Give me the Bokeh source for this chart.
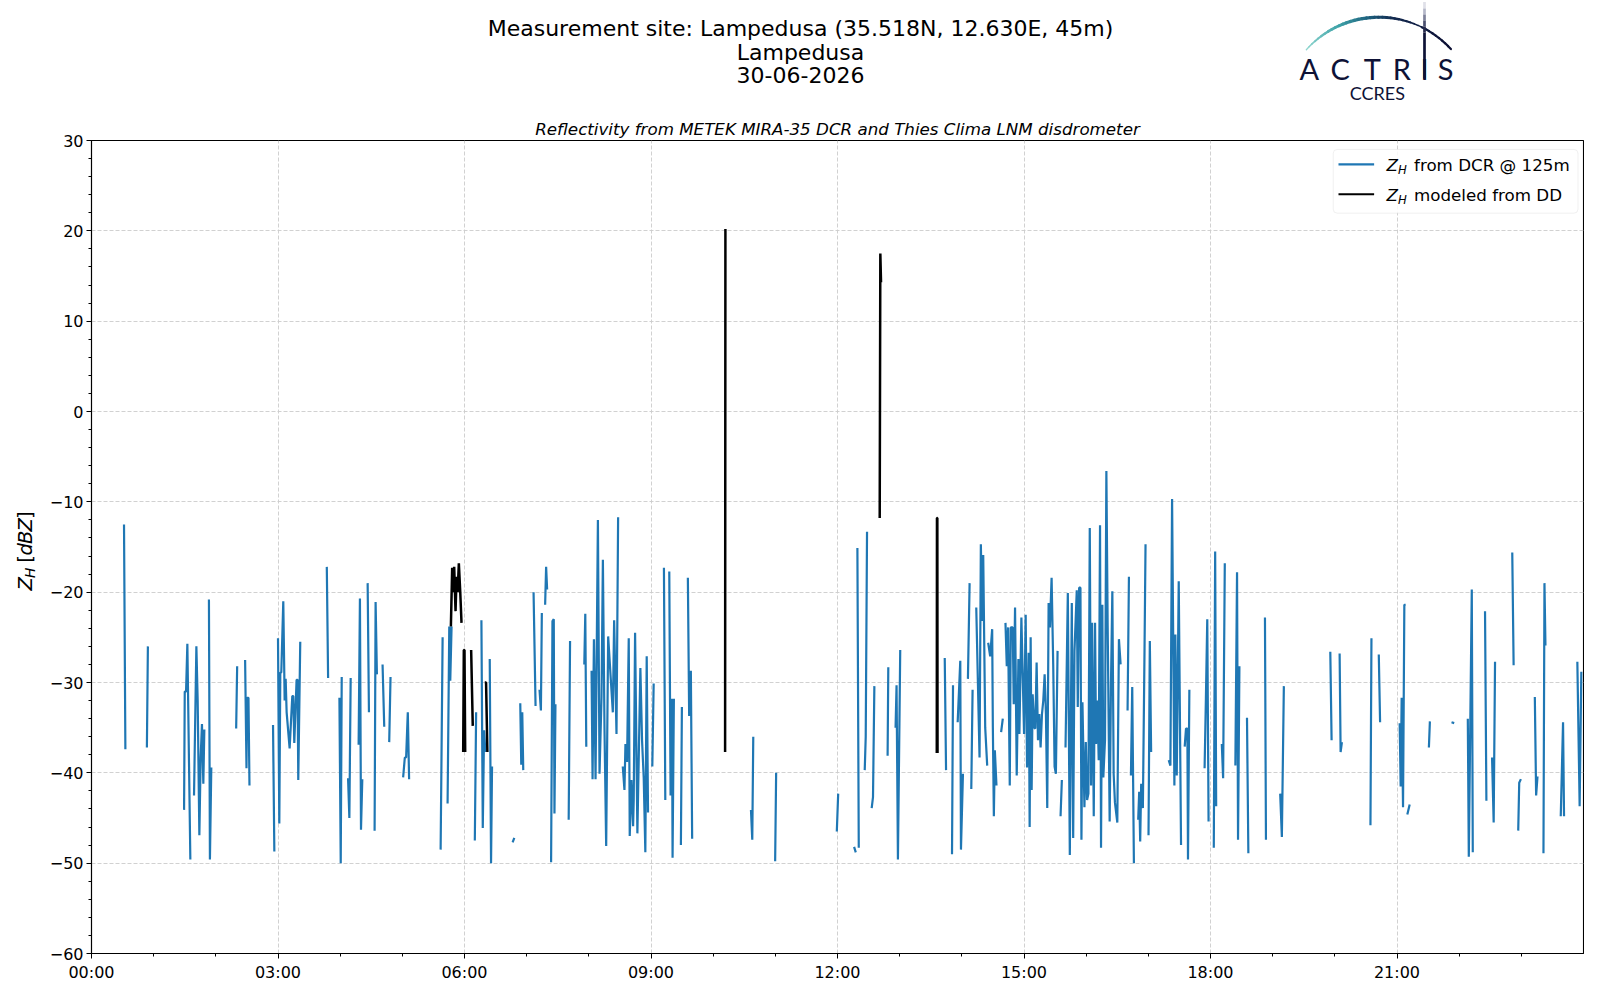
import math
from bokeh.plotting import figure
from bokeh.layouts import column, row
from bokeh.models import Range1d, FixedTicker, Label, BoxAnnotation
from bokeh.embed import file_html
from bokeh.resources import INLINE
from bokeh.core.properties import value

nan = float("nan")

# ---------------- texts ----------------
title_lines = ["Measurement site: Lampedusa (35.518N, 12.630E, 45m)", "Lampedusa", "30-06-2026"]
subtitle = "Reflectivity from METEK MIRA-35 DCR and Thies Clima LNM disdrometer"
legend_dcr_text = "from DCR @ 125m"
legend_dd_text = "modeled from DD"
logo_letters = ["A", "C", "T", "R", "I", "S"]
logo_sub = "CCRES"

# ---------------- axis ticks ----------------
x_tick_hours = [0, 3, 6, 9, 12, 15, 18, 21]
x_tick_labels = ["00:00", "03:00", "06:00", "09:00", "12:00", "15:00", "18:00", "21:00"]
y_tick_values = [-60, -50, -40, -30, -20, -10, 0, 10, 20, 30]
y_tick_labels = ["\u221260", "\u221250", "\u221240", "\u221230", "\u221220", "\u221210", "0", "10", "20", "30"]

# ---------------- data: Z_H from DCR @ 125 m (hours UTC, dBZ), nan = gap ----------------
dcr_time_h = [
    0.523, 0.545, nan,
    0.891, 0.907, nan,
    1.489, 1.500, 1.521, 1.542, 1.590, nan,
    1.649, 1.687, 1.708, 1.735, 1.756, 1.777, 1.799, 1.815, nan,
    1.889, 1.905, 1.927, nan,
    2.327, 2.343, nan,
    2.471, 2.493, 2.503, 2.525, 2.541, nan,
    2.920, 2.941, nan,
    3.000, 3.021, 3.037, 3.053, 3.085, 3.107, 3.123, 3.139, 3.187, 3.230, 3.246, 3.262, 3.299, 3.315, 3.326, 3.358, nan,
    3.785, 3.806, nan,
    3.988, 4.009, 4.025, nan,
    4.127, 4.148, 4.169, nan,
    4.297, 4.318, 4.335, 4.356, nan,
    4.442, 4.463, nan,
    4.554, 4.570, 4.591, nan,
    4.682, 4.709, nan,
    4.789, 4.810, nan,
    5.013, 5.040, 5.061, 5.088, 5.109, nan,
    5.616, 5.648, nan,
    5.728, 5.755, 5.771, 5.792, nan,
    6.166, 6.187, nan,
    6.272, 6.294, 6.315, 6.336, nan,
    6.406, 6.427, 6.443, nan,
    6.774, 6.801, nan,
    6.897, 6.913, 6.929, 6.945, nan,
    7.111, 7.143, nan,
    7.207, 7.229, 7.244, nan,
    7.297, 7.313, 7.329, nan,
    7.393, 7.415, 7.436, 7.447, 7.463, nan,
    7.676, 7.698, nan,
    7.927, 7.943, 7.959, nan,
    8.044, 8.060, 8.082, 8.108, 8.146, 8.172, 8.204, 8.226, 8.252, 8.279, 8.311, 8.386, 8.407, 8.445, 8.471, nan,
    8.546, 8.573, 8.589, 8.615, 8.642, 8.658, 8.685, 8.712, 8.722, 8.744, 8.781, 8.829, 8.856, 8.883, 8.909, 8.931, 8.952, nan,
    9.021, 9.043, nan,
    9.208, 9.230, nan,
    9.294, 9.315, 9.337, 9.347, 9.368, nan,
    9.481, 9.497, nan,
    9.593, 9.614, 9.641, 9.662, nan,
    10.608, 10.629, 10.645, nan,
    10.997, 11.013, nan,
    11.989, 12.011, nan,
    12.267, 12.294, nan,
    12.320, 12.342, nan,
    12.438, 12.454, 12.475, nan,
    12.550, 12.571, 12.593, nan,
    12.806, 12.817, nan,
    12.934, 12.950, 12.972, 13.009, nan,
    13.725, 13.746, nan,
    13.842, 13.858, nan,
    13.933, 13.975, 13.986, 14.018, nan,
    14.098, 14.125, nan,
    14.152, 14.173, nan,
    14.232, 14.285, 14.306, 14.328, 14.344, 14.376, 14.408, nan,
    14.424, 14.456, 14.488, 14.499, 14.515, 14.531, 14.557, nan,
    14.632, 14.659, nan,
    14.702, 14.723, 14.744, 14.771, 14.787, 14.819, 14.835, 14.856, 14.883, 14.910, 14.926, 14.958, 14.979,
    15.001, 15.027, 15.049, 15.075, 15.091, 15.107, 15.123, 15.139, 15.166, 15.182, 15.203, 15.225, 15.246,
    15.267, 15.289, 15.310, 15.332, 15.353, 15.374, 15.396, 15.417, 15.444, 15.470, 15.492, 15.513, 15.540, nan,
    15.588, 15.609, nan,
    15.668, 15.705, 15.737, 15.769, 15.791, 15.812, 15.849, 15.865, 15.887, 15.908, 15.924, 15.940, 15.972,
    15.994, 16.015, 16.036, 16.058, 16.079, 16.095, 16.122, 16.143, 16.159, 16.180, 16.202, 16.223, 16.239,
    16.260, 16.276, 16.303, 16.325, 16.346, 16.378, 16.399, 16.421, 16.442, 16.463, 16.501, 16.527, 16.554, nan,
    16.666, 16.688, nan,
    16.720, 16.741, 16.768, nan,
    16.837, 16.853, 16.869, 16.885, 16.912, 16.939, 16.955, nan,
    17.003, 17.024, 17.045, nan,
    17.328, 17.355, 17.382, 17.419, 17.435, 17.457, 17.489, 17.526, nan,
    17.585, 17.606, 17.628, 17.638, 17.660, nan,
    17.905, 17.926, 17.948, 17.969, nan,
    18.053, 18.075, 18.091, nan,
    18.182, 18.203, 18.230, nan,
    18.400, 18.427, 18.443, 18.465, nan,
    18.587, 18.609, nan,
    18.876, 18.892, nan,
    19.121, 19.148, 19.180, nan,
    19.927, 19.948, nan,
    20.077, 20.093, 20.114, nan,
    20.573, 20.589, nan,
    20.707, 20.728, nan,
    21.043, 21.059, 21.075, 21.097, 21.118, 21.139, nan,
    21.166, 21.204, nan,
    21.513, 21.529, nan,
    21.877, 21.920, nan,
    22.139, 22.155, 22.203, 22.219, nan,
    22.416, 22.438, nan,
    22.529, 22.555, 22.577, nan,
    22.854, 22.876, nan,
    22.950, 22.966, 22.993, nan,
    23.217, 23.238, 23.260, nan,
    23.356, 23.372, 23.388, nan,
    23.634, 23.671, 23.687, nan,
    23.901, 23.938, 23.965,
]
dcr_zh = [
    -12.5, -37.4, nan,
    -37.2, -26.0, nan,
    -44.1, -31.0, -31.0, -25.7, -49.6, nan,
    -42.5, -26.0, -32.0, -46.9, -38.3, -34.6, -41.2, -35.2, nan,
    -20.8, -49.6, -39.4, nan,
    -35.1, -28.2, nan,
    -27.5, -39.5, -31.7, -31.7, -41.4, nan,
    -34.7, -48.7, nan,
    -25.1, -45.6, -28.9, -28.9, -21.0, -32.0, -29.6, -33.3, -37.3, -31.5, -31.5, -36.7, -29.7, -29.7, -40.8, -25.5, nan,
    -17.2, -29.5, nan,
    -31.7, -50.0, -29.4, nan,
    -40.6, -45.0, -29.5, nan,
    -36.9, -20.7, -46.3, -40.7, nan,
    -19.0, -33.3, nan,
    -46.4, -21.1, -29.1, nan,
    -28.0, -34.9, nan,
    -36.6, -29.4, nan,
    -40.5, -38.3, -38.3, -33.3, -40.7, nan,
    -48.5, -25.0, nan,
    -43.4, -23.8, -29.8, -23.8, nan,
    -47.5, -33.3, nan,
    -23.1, -46.1, -35.3, -37.7, nan,
    -27.4, -50.0, -39.3, nan,
    -47.7, -47.2, nan,
    -32.3, -39.1, -33.3, -39.7, nan,
    -20.0, -32.6, nan,
    -30.8, -33.1, -22.3, nan,
    -21.4, -17.2, -19.7, nan,
    -49.9, -23.2, -23.0, -44.5, -32.4, nan,
    -45.2, -25.4, nan,
    -28.0, -22.4, -37.1, nan,
    -28.7, -40.7, -25.2, -40.7, -12.0, -40.1, -31.6, -16.4, -35.2, -48.1, -24.9, -33.3, -23.1, -35.7, -11.7, nan,
    -39.3, -41.9, -36.8, -38.8, -25.1, -47.0, -40.8, -45.9, -43.0, -24.5, -46.7, -28.4, -36.4, -40.6, -48.8, -27.1, -44.4, nan,
    -39.3, -30.1, nan,
    -17.3, -43.0, nan,
    -17.7, -42.5, -31.8, -49.4, -31.8, nan,
    -48.0, -32.7, nan,
    -18.4, -33.7, -28.7, -47.3, nan,
    -44.1, -47.4, -36.0, nan,
    -49.8, -40.0, nan,
    -46.5, -42.3, nan,
    -48.2, -48.8, nan,
    -15.1, -48.3, nan,
    -39.7, -36.0, -13.3, nan,
    -43.9, -42.7, -30.4, nan,
    -38.1, -28.3, nan,
    -35.0, -30.3, -49.6, -26.4, nan,
    -27.3, -39.7, nan,
    -49.0, -30.3, nan,
    -34.4, -27.6, -48.5, -40.1, nan,
    -29.6, -19.0, nan,
    -41.8, -30.8, nan,
    -21.7, -38.3, -14.7, -23.2, -15.9, -35.0, -39.2, nan,
    -25.6, -27.1, -24.1, -35.0, -44.8, -37.5, -41.4, nan,
    -35.5, -34.0, nan,
    -23.4, -28.2, -23.9, -41.4, -23.9, -23.9, -32.4, -21.7, -40.3, -27.4, -35.7, -22.8, -29.1,
    -35.7, -22.5, -39.4, -26.7, -46.0, -25.0, -41.9, -31.3, -35.0, -35.1, -27.8, -36.4, -33.5,
    -37.2, -33.5, -32.0, -29.1, -33.5, -43.9, -21.2, -23.9, -18.4, -28.0, -39.3, -40.1, -26.5, nan,
    -44.8, -40.8, nan,
    -37.2, -20.1, -49.1, -21.2, -47.2, -26.5, -19.8, -32.7, -19.5, -19.5, -47.4, -32.2, -43.8,
    -36.6, -43.0, -42.3, -12.9, -41.4, -23.4, -44.8, -23.4, -36.8, -32.0, -38.6, -12.6, -48.3,
    -21.4, -40.5, -36.4, -6.6, -23.8, -45.4, -30.2, -19.9, -40.1, -43.3, -45.5, -25.2, -28.0, nan,
    -33.1, -18.3, nan,
    -40.3, -30.5, -50.0, nan,
    -45.2, -42.1, -47.6, -41.2, -43.9, -26.2, -14.7, nan,
    -46.9, -25.4, -37.7, nan,
    -38.6, -39.2, -9.7, -41.4, -24.7, -40.3, -18.8, -48.0, nan,
    -37.1, -35.1, -35.1, -49.6, -30.8, nan,
    -39.5, -31.8, -23.0, -45.4, nan,
    -48.3, -15.5, -43.7, nan,
    -36.8, -40.6, -16.8, nan,
    -39.2, -17.8, -47.4, -28.2, nan,
    -33.9, -48.9, nan,
    -22.8, -47.4, nan,
    -42.3, -47.1, -30.4, nan,
    -26.6, -36.4, nan,
    -26.8, -37.7, -36.6, nan,
    -45.8, -25.1, nan,
    -26.9, -34.4, nan,
    -34.5, -41.5, -31.7, -43.8, -21.4, -21.4, nan,
    -44.6, -43.5, nan,
    -37.2, -34.3, nan,
    -34.4, -34.5, nan,
    -34.0, -49.3, -19.7, -48.8, nan,
    -22.1, -43.1, nan,
    -38.3, -45.5, -27.7, nan,
    -15.6, -28.1, nan,
    -46.4, -41.1, -40.7, nan,
    -31.6, -42.5, -40.4, nan,
    -48.9, -19.0, -25.9, nan,
    -44.8, -34.4, -44.8, nan,
    -27.7, -43.7, -28.8,
]

# ---------------- data: Z_H modeled from disdrometer (hours UTC, dBZ) ----------------
dd_time_h = [
    5.781, 5.802, 5.818, 5.834, 5.856, 5.872, 5.890, 5.909, 5.931, 5.952, nan,
    5.979, 5.989, 6.000, 6.011, nan,
    6.107, 6.133, nan,
    6.326, 6.347, 6.368, nan,
    10.192, 10.197, nan,
    12.679, 12.689, 12.700, nan,
    13.597, 13.600, 13.606, 13.609,
]
dd_zh = [
    -23.8, -17.3, -20.0, -17.2, -22.1, -18.3, -20.0, -16.8, -19.9, -23.4, nan,
    -37.7, -26.4, -26.4, -37.7, nan,
    -26.4, -34.8, nan,
    -30.0, -30.0, -37.7, nan,
    -37.7, 20.2, nan,
    -11.8, 17.5, 14.3, nan,
    -37.8, -11.8, -11.8, -37.8,
]

# ---------------- layout (page pixels) ----------------
W, H = 1584, 984
HDR_H = 112
YLAB_W = 46
MAIN_W, MAIN_H = W - YLAB_W, H - HDR_H
BORDER_L, BORDER_R, BORDER_T, BORDER_B = 42, 1, 28, 27
BLUE = "#1f77b4"
NAVY = "#0e1236"
FONT = "DejaVu Sans"
MID = 0.35   # distance (in em) from the text baseline up to its vertical middle

# frame position on the page, used to place the legend items in data units
FR_L, FR_R = YLAB_W + BORDER_L, W - BORDER_R
FR_T, FR_B = HDR_H + BORDER_T, H - BORDER_B


def fx(X):
    return (X - FR_L) * 24.0 / (FR_R - FR_L)


def fy(Y):
    return 30.0 - (Y - FR_T) * 90.0 / (FR_B - FR_T)


# ================= header figure (titles + logo) =================
hdr = figure(width=W, height=HDR_H, x_range=Range1d(0, W), y_range=Range1d(HDR_H, 0),
             toolbar_location=None, output_backend="svg", min_border=0,
             x_axis_location=None, y_axis_location=None)
hdr.grid.visible = False
hdr.outline_line_color = None
hdr.background_fill_color = "white"
hdr.border_fill_color = "white"

for txt, yy in zip(title_lines, [28.3, 51.7, 74.2]):
    hdr.text(x=[800.0], y=[yy], text=[txt], text_align="center", text_baseline="middle",
             text_font=value(FONT), text_font_size="22px", text_color="black")

# logo arc with colour gradient
cx, cy, R = 1378.4, 113.9, 97.2
stops = [(0.0, (143, 214, 207)), (0.25, (63, 163, 168)), (0.45, (29, 95, 125)),
         (0.6, (19, 41, 79)), (1.0, (12, 15, 51))]


def grad(t):
    for (t0, c0), (t1, c1) in zip(stops[:-1], stops[1:]):
        if t <= t1:
            f = (t - t0) / (t1 - t0)
            return "#%02x%02x%02x" % tuple(int(round(a + (b - a) * f)) for a, b in zip(c0, c1))
    return "#%02x%02x%02x" % stops[-1][1]


n = 40
a0, a1 = math.radians(138.3), math.radians(42.2)
axs, ays, acol, alw = [], [], [], []
for i in range(n):
    t0 = a0 + (a1 - a0) * i / n
    t1 = a0 + (a1 - a0) * (i + 1) / n
    axs.append([cx + R * math.cos(t0), cx + R * math.cos(t1)])
    ays.append([cy - R * math.sin(t0), cy - R * math.sin(t1)])
    u = i / (n - 1)
    acol.append(grad(u))
    alw.append(1.3 + 2.0 * math.sin(math.pi * min(1.0, u * 1.3)) if u < 0.77 else 2.2)
hdr.multi_line(axs, ays, line_color=acol, line_width=alw, line_cap="round")

for letter, lx in zip(logo_letters, [1308.7, 1339.7, 1371.7, 1401.3, 1424.0, 1445.0]):
    hdr.text(x=[lx], y=[67.8], text=[letter], text_align="center", text_baseline="middle",
             text_font=value("Lato"), text_font_size="29px", text_color=NAVY)
# tall stroke of the "I"
vy = [1.5, 8, 14, 20, 26, 32, 78.3]
vcol = ["#dfe0e8", "#b4b7c8", "#7d8199", "#4a4f6e", "#262a4c", NAVY]
hdr.multi_line([[1424.0, 1424.0] for _ in vcol], [[vy[i], vy[i + 1]] for i in range(len(vcol))],
               line_color=vcol, line_width=2.7)
hdr.text(x=[1376.9], y=[92.5], text=[logo_sub], text_align="center", text_baseline="middle",
         text_font=value("Lato"), text_font_size="18px", text_color=NAVY)

# ================= y-axis label panel: Z_H [dBZ] (rotated) =================
ylf = figure(width=YLAB_W, height=MAIN_H, x_range=Range1d(0, YLAB_W), y_range=Range1d(0, MAIN_H),
             toolbar_location=None, output_backend="svg", min_border=0,
             x_axis_location=None, y_axis_location=None)
ylf.grid.visible = False
ylf.outline_line_color = None
ylf.background_fill_color = "white"
ylf.border_fill_color = "white"
# (text, baseline x, start y measured from the bottom of this panel, style, size in px)
ylab = [("Z", 31.7, 389.3, "italic", 19.5),
        ("H", 34.0, 402.7, "italic", 13.7),
        ("[", 31.7, 419.2, "normal", 19.5),
        ("d", 31.7, 426.8, "italic", 19.5),
        ("B", 31.7, 439.2, "italic", 19.5),
        ("Z", 31.7, 452.6, "italic", 19.5),
        ("]", 31.7, 466.0, "normal", 19.5)]
for txt, X, Y, sty, sz in ylab:
    ylf.text(x=[X - MID * sz], y=[Y], text=[txt], angle=math.pi / 2, text_align="left",
             text_baseline="middle", text_font=value(FONT), text_font_style=sty,
             text_font_size="%.1fpx" % sz, text_color="black")

# ================= main figure =================
p = figure(width=MAIN_W, height=MAIN_H, x_range=Range1d(0, 24), y_range=Range1d(-60, 30),
           toolbar_location=None, output_backend="svg",
           min_border_left=BORDER_L, min_border_right=BORDER_R,
           min_border_top=BORDER_T, min_border_bottom=BORDER_B)
p.background_fill_color = "white"
p.border_fill_color = "white"
p.outline_line_color = "black"
p.outline_line_width = 1.1
p.outline_line_alpha = 1.0

p.title.text = subtitle
p.title.align = "center"
p.title.text_font = FONT
p.title.text_font_style = "italic"
p.title.text_font_size = "16.7px"
p.title.text_color = "black"
p.title.standoff = 4

p.xaxis.ticker = FixedTicker(ticks=x_tick_hours, minor_ticks=list(range(0, 24)))
p.xaxis.major_label_overrides = dict(zip(x_tick_hours, x_tick_labels))
p.yaxis.ticker = FixedTicker(ticks=y_tick_values, minor_ticks=list(range(-60, 31, 2)))
p.yaxis.major_label_overrides = dict(zip(y_tick_values, y_tick_labels))

for ax in (p.xaxis[0], p.yaxis[0]):
    ax.axis_line_color = "black"
    ax.axis_line_width = 1.1
    ax.major_tick_out = 5
    ax.major_tick_in = 0
    ax.minor_tick_out = 3
    ax.minor_tick_in = 0
    ax.major_tick_line_color = "black"
    ax.minor_tick_line_color = "black"
    ax.major_label_text_font = FONT
    ax.major_label_text_font_size = "16px"
    ax.major_label_text_color = "black"
p.xaxis.major_label_standoff = 4
p.yaxis.major_label_standoff = 3

for g in (p.xgrid[0], p.ygrid[0]):
    g.grid_line_color = "#cccccc"
    g.grid_line_dash = "4 2"
    g.grid_line_width = 0.9

p.line(dcr_time_h, dcr_zh, line_color=BLUE, line_width=2.2)
p.line(dd_time_h, dd_zh, line_color="black", line_width=2.5)

# ---- legend (annotations, so that Z_H can carry a subscript) ----
LG = FR_R - 5.5   # legend right edge
p.add_layout(BoxAnnotation(left=fx(LG - 245.3), right=fx(LG), top=fy(149), bottom=fy(213),
                           fill_color="white", fill_alpha=0.85, line_color="#cccccc",
                           line_width=1, border_radius=4))
for yc, col in ((164.0, BLUE), (194.0, "black")):
    p.add_layout(BoxAnnotation(left=fx(LG - 240.0), right=fx(LG - 204.3), top=fy(yc - 1.1), bottom=fy(yc + 1.1),
                               fill_color=col, fill_alpha=1.0, line_alpha=0))
for base, txt in ((170.7, legend_dcr_text), (200.7, legend_dd_text)):
    p.add_layout(Label(x=fx(LG - 192.0), y=fy(base - MID * 16.7), text="Z", text_font=FONT,
                       text_font_style="italic", text_font_size="16.7px", text_baseline="middle",
                       text_color="black"))
    p.add_layout(Label(x=fx(LG - 180.3), y=fy(base + 2.8 - MID * 11.7), text="H", text_font=FONT,
                       text_font_style="italic", text_font_size="11.7px", text_baseline="middle",
                       text_color="black"))
    p.add_layout(Label(x=fx(LG - 164.3), y=fy(base - MID * 16.7), text=txt, text_font=FONT,
                       text_font_size="16.7px", text_baseline="middle", text_color="black"))

layout = column(hdr, row(ylf, p, spacing=0), spacing=0)
open("out.html", "w").write(file_html(layout, INLINE, title="Lampedusa reflectivity"))
